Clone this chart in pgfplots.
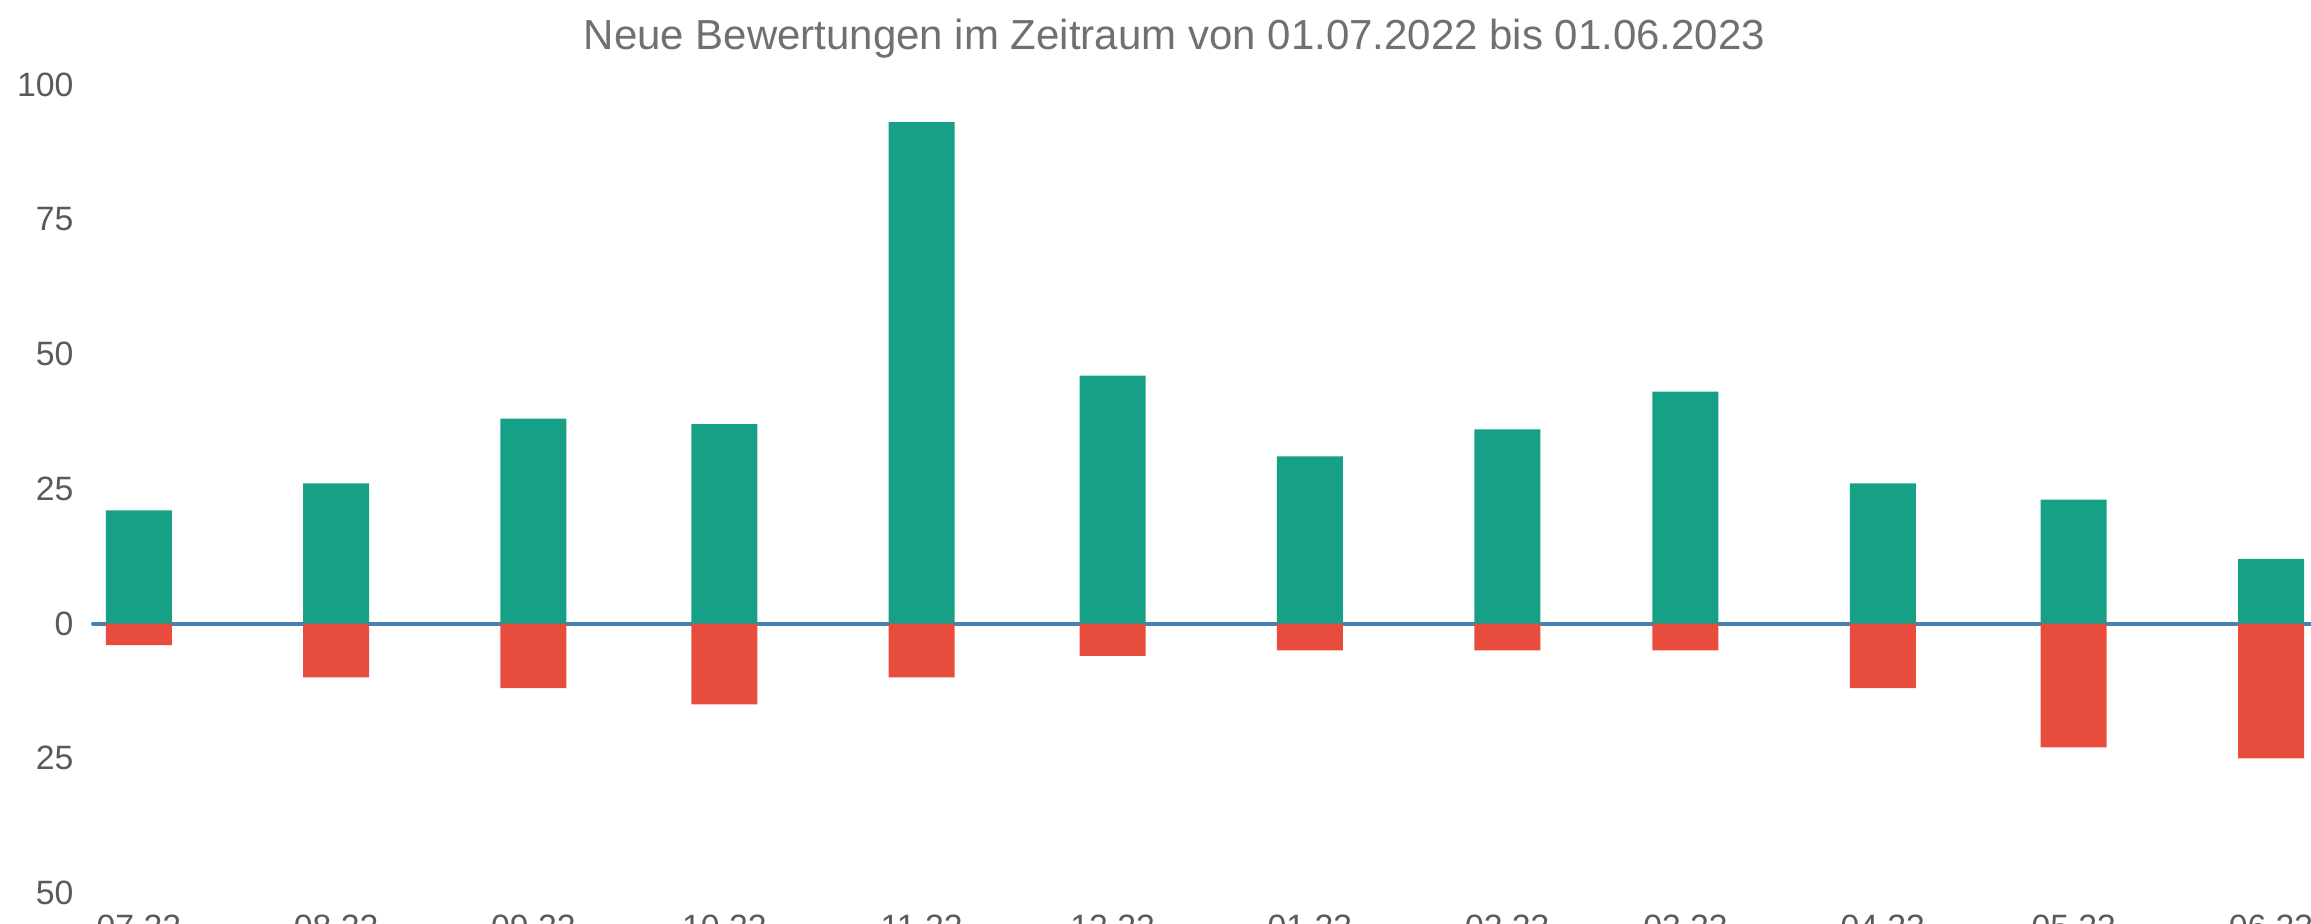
\documentclass[border=0pt]{standalone}
\usepackage{pgfplots}
\pgfplotsset{compat=1.18}
\usepackage{fontspec}
\setmainfont{Liberation Sans}
\definecolor{barGreen}{RGB}{22,160,133}
\definecolor{barRed}{RGB}{231,76,60}
\definecolor{zeroBlue}{RGB}{70,130,180}
\definecolor{txtGray}{RGB}{90,90,90}
\definecolor{titleGray}{RGB}{112,112,112}
\begin{document}
\begin{tikzpicture}
\path[use as bounding box] (0pt,0pt) rectangle (924.4pt,-369.6pt);
\clip (0pt,0pt) rectangle (924.4pt,-369.6pt);
\node[anchor=base, text=titleGray, font=\fontsize{16.8}{20}\selectfont] at (469.8pt,-19.9pt)
  {Neue Bewertungen im Zeitraum von 01.07.2022 bis 01.06.2023};
\begin{axis}[
  at={(37.2pt,-357.2pt)}, anchor=south west,
  scale only axis,
  width=909.4pt, height=323.4pt,
  xmin=-7.2, xmax=350,
  ymin=-50, ymax=100,
  axis line style={draw=none},
  major tick length=0pt,
  ytick={-50,-25,0,25,50,75,100},
  yticklabels={50,25,0,25,50,75,100},
  xtick={0,31,62,92,123,153,184,215,243,274,304,335},
  xticklabels={07.22,08.22,09.22,10.22,11.22,12.22,01.23,02.23,03.23,04.23,05.23,06.23},
  /pgf/number format/assume math mode=true,
  ticklabel style={text=txtGray, font=\fontsize{13.5}{16}\selectfont},
  yticklabel style={anchor=east, inner sep=0pt, xshift=-7.6pt},
  xticklabel style={anchor=north, inner sep=0pt, yshift=-8.4pt},
  clip=false,
]
\addplot[zeroBlue, line width=1.6pt, line cap=round] coordinates {(-7.2,0) (350,0)};
\addplot[ybar, bar width=26.4pt, bar shift=0pt, fill=barGreen, draw=none] coordinates {
  (0,21) (31,26) (62,38) (92,37) (123,93) (153,46) (184,31) (215,36) (243,43) (274,26) (304,23) (335,12)};
\addplot[ybar, bar width=26.4pt, bar shift=0pt, fill=barRed, draw=none] coordinates {
  (0,-4) (31,-10) (62,-12) (92,-15) (123,-10) (153,-6) (184,-5) (215,-5) (243,-5) (274,-12) (304,-23) (335,-25)};
\end{axis}
\end{tikzpicture}
\end{document}
